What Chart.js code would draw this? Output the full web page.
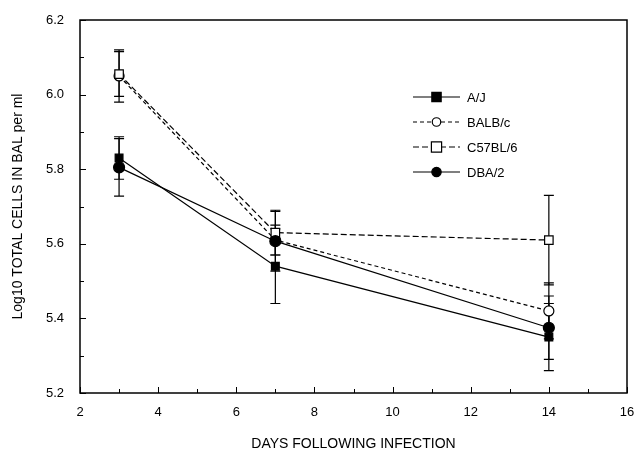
<!DOCTYPE html>
<html><head><meta charset="utf-8">
<script src="https://cdn.jsdelivr.net/npm/chart.js@4.4.0/dist/chart.umd.min.js"></script>
<style>html,body{margin:0;padding:0;background:#fff}#wrap{width:637px;height:453px}</style>
</head><body><div id="wrap"><canvas id="c" width="637" height="453"></canvas></div>
<script>
const days = [3, 7, 14];
const seriesNames = ["A/J", "BALB/c", "C57BL/6", "DBA/2"];
const ajVals = [5.83, 5.54, 5.35];
const ajErr = [0.057, 0.10, 0.09];
const balbVals = [6.05, 5.61, 5.42];
const balbErr = [0.07, 0.04, 0.075];
const c57Vals = [6.055, 5.63, 5.61];
const c57Err = [0.06, 0.06, 0.12];
const dbaVals = [5.805, 5.607, 5.375];
const dbaErr = [0.077, 0.08, 0.085];
const xTicks = [2, 4, 6, 8, 10, 12, 14, 16];
const yTicks = [5.2, 5.4, 5.6, 5.8, 6.0, 6.2];

const FONT = "'Liberation Sans', Arial, sans-serif";
const styles = [
  {dash: [], point: 'rect', fill: '#000', r: 5.5, order: 1},
  {dash: [4, 3], point: 'circle', fill: '#fff', r: 5, order: 3},
  {dash: [6, 3], point: 'rect', fill: '#fff', r: 6, order: 2},
  {dash: [], point: 'circle', fill: '#000', r: 5.5, order: 0}
];
const vals = [ajVals, balbVals, c57Vals, dbaVals];
const errs = [ajErr, balbErr, c57Err, dbaErr];

const datasets = seriesNames.map((n, i) => ({
  label: n,
  data: days.map((d, j) => ({x: d, y: vals[i][j]})),
  order: styles[i].order,
  borderColor: '#000',
  borderWidth: 1.2,
  borderDash: styles[i].dash,
  pointStyle: styles[i].point,
  pointRadius: styles[i].r,
  pointBackgroundColor: styles[i].fill,
  pointBorderColor: '#000',
  pointBorderWidth: 1.2,
  showLine: true,
  fill: false,
  tension: 0,
  errors: errs[i]
}));

const framePlugin = {
  id: 'frame',
  beforeDatasetsDraw(chart) {
    const {ctx, scales: {x, y}} = chart;
    ctx.save();
    ctx.strokeStyle = '#000'; ctx.lineWidth = 1.2; ctx.setLineDash([]);
    chart.data.datasets.forEach(ds => {
      ds.data.forEach((p, j) => {
        const e = ds.errors[j];
        const px = x.getPixelForValue(p.x);
        const y1 = y.getPixelForValue(p.y + e), y2 = y.getPixelForValue(p.y - e);
        ctx.beginPath();
        ctx.moveTo(px, y1); ctx.lineTo(px, y2);
        ctx.moveTo(px - 5, y1); ctx.lineTo(px + 5, y1);
        ctx.moveTo(px - 5, y2); ctx.lineTo(px + 5, y2);
        ctx.stroke();
      });
    });
    ctx.restore();
  },
  afterDraw(chart) {
    const {ctx, chartArea: a, scales: {x, y}} = chart;
    ctx.save();
    ctx.strokeStyle = '#000'; ctx.lineWidth = 1.5; ctx.setLineDash([]);
    ctx.strokeRect(a.left, a.top, a.right - a.left, a.bottom - a.top);
    ctx.lineWidth = 1;
    for (let v = 2; v <= 16; v += 1) {
      const px = Math.round(x.getPixelForValue(v)) + 0.5;
      const len = (v % 2 === 0) ? 6 : 4;
      ctx.beginPath(); ctx.moveTo(px, a.bottom); ctx.lineTo(px, a.bottom - len); ctx.stroke();
    }
    for (let k = 52; k <= 62; k += 1) {
      const py = Math.round(y.getPixelForValue(k / 10)) + 0.5;
      const len = (k % 2 === 0) ? 6 : 4;
      ctx.beginPath(); ctx.moveTo(a.left, py); ctx.lineTo(a.left + len, py); ctx.stroke();
    }
    const lx0 = 413, lx1 = 460, tx = 467;
    const rows = [97, 122, 147, 172];
    chart.data.datasets.forEach((ds, i) => {
      const ry = rows[i];
      ctx.strokeStyle = '#000'; ctx.lineWidth = 1.2;
      ctx.setLineDash(styles[i].dash);
      ctx.beginPath(); ctx.moveTo(lx0, ry); ctx.lineTo(lx1, ry); ctx.stroke();
      ctx.setLineDash([]);
      const mx = (lx0 + lx1) / 2, r = styles[i].r * 0.85;
      ctx.fillStyle = styles[i].fill;
      ctx.beginPath();
      if (styles[i].point === 'rect') ctx.rect(mx - r, ry - r, 2 * r, 2 * r);
      else ctx.arc(mx, ry, r, 0, Math.PI * 2);
      ctx.fill(); ctx.stroke();
      ctx.fillStyle = '#000';
      ctx.font = '13px ' + FONT;
      ctx.textBaseline = 'middle'; ctx.textAlign = 'left';
      ctx.fillText(ds.label, tx, ry + 1);
    });
    ctx.restore();
  }
};

new Chart(document.getElementById('c'), {
  type: 'scatter',
  data: {datasets},
  options: {
    responsive: false,
    animation: false,
    layout: {padding: {top: 20, right: 10, left: 0, bottom: 0}},
    plugins: {legend: {display: false}, tooltip: {enabled: false}},
    scales: {
      x: {
        type: 'linear', min: 2, max: 16,
        afterBuildTicks(s) { s.ticks = xTicks.map(v => ({value: v})); },
        afterFit(s) { s.height = 60; s.paddingRight = 0; s.paddingLeft = 0; },
        grid: {display: false, drawTicks: false},
        border: {display: false},
        ticks: {color: '#000', font: {family: FONT, size: 13}, padding: 12, maxRotation: 0,
          callback: v => String(v)},
        title: {display: true, text: 'DAYS FOLLOWING INFECTION', color: '#000',
          font: {family: FONT, size: 14}, padding: {top: 5, bottom: 0}}
      },
      y: {
        type: 'linear', min: 5.2, max: 6.2,
        afterBuildTicks(s) { s.ticks = yTicks.map(v => ({value: v})); },
        afterFit(s) { s.width = 80; s.paddingTop = 0; s.paddingBottom = 0; },
        grid: {display: false, drawTicks: false},
        border: {display: false},
        ticks: {color: '#000', font: {family: FONT, size: 13}, padding: 16,
          callback: v => Number(v).toFixed(1)},
        title: {display: true, text: 'Log10 TOTAL CELLS IN BAL per ml', color: '#000',
          font: {family: FONT, size: 14}, padding: {top: 10, bottom: 0}}
      }
    }
  },
  plugins: [framePlugin]
});
</script>
</body></html>
